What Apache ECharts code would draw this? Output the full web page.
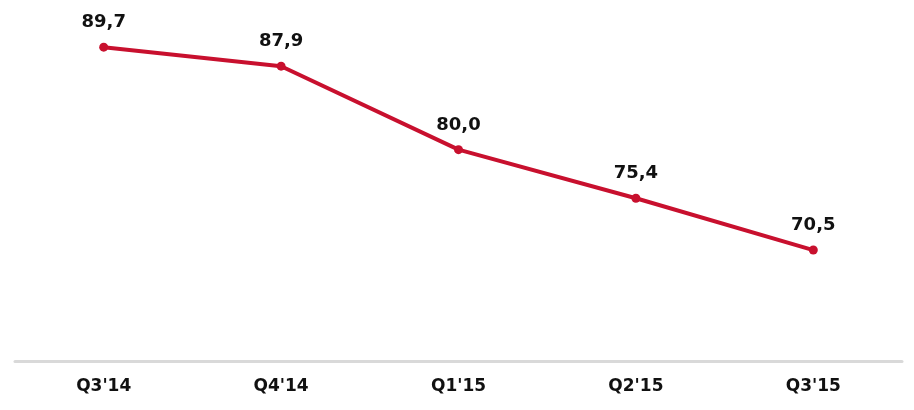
<!DOCTYPE html>
<html>
<head>
<meta charset="utf-8">
<script src="https://cdn.jsdelivr.net/npm/echarts@6/dist/echarts.min.js"></script>
<style>
  html, body { margin: 0; padding: 0; background: #fff; }
  #chart { width: 914px; height: 410px; }
</style>
</head>
<body>
<div id="chart"></div>
<script>
var quarters = ["Q3'14", "Q4'14", "Q1'15", "Q2'15", "Q3'15"];
var values = [89.7, 87.9, 80.0, 75.4, 70.5];

var chart = echarts.init(document.getElementById('chart'));

var option = {
  animation: false,
  grid: { left: 15, right: 12, top: 44, bottom: 49 },
  xAxis: {
    type: 'category',
    data: quarters,
    axisLine: { lineStyle: { color: '#d9d9d9', width: 3 } },
    axisTick: { show: false },
    axisLabel: {
      margin: 17,
      color: '#111',
      fontFamily: 'DejaVu Sans',
      fontWeight: 'bold',
      fontSize: 17
    }
  },
  yAxis: {
    type: 'value',
    min: 60,
    max: 90,
    show: false
  },
  series: [{
    type: 'line',
    data: values,
    symbol: 'circle',
    symbolSize: 9,
    lineStyle: { color: '#c8102e', width: 4 },
    itemStyle: { color: '#c8102e' },
    label: {
      show: true,
      position: 'top',
      distance: 11,
      color: '#111',
      fontFamily: 'DejaVu Sans',
      fontWeight: 'bold',
      fontSize: 18,
      formatter: function (p) {
        return p.value.toFixed(1).replace('.', ',');
      }
    }
  }]
};

chart.setOption(option);
</script>
</body>
</html>
